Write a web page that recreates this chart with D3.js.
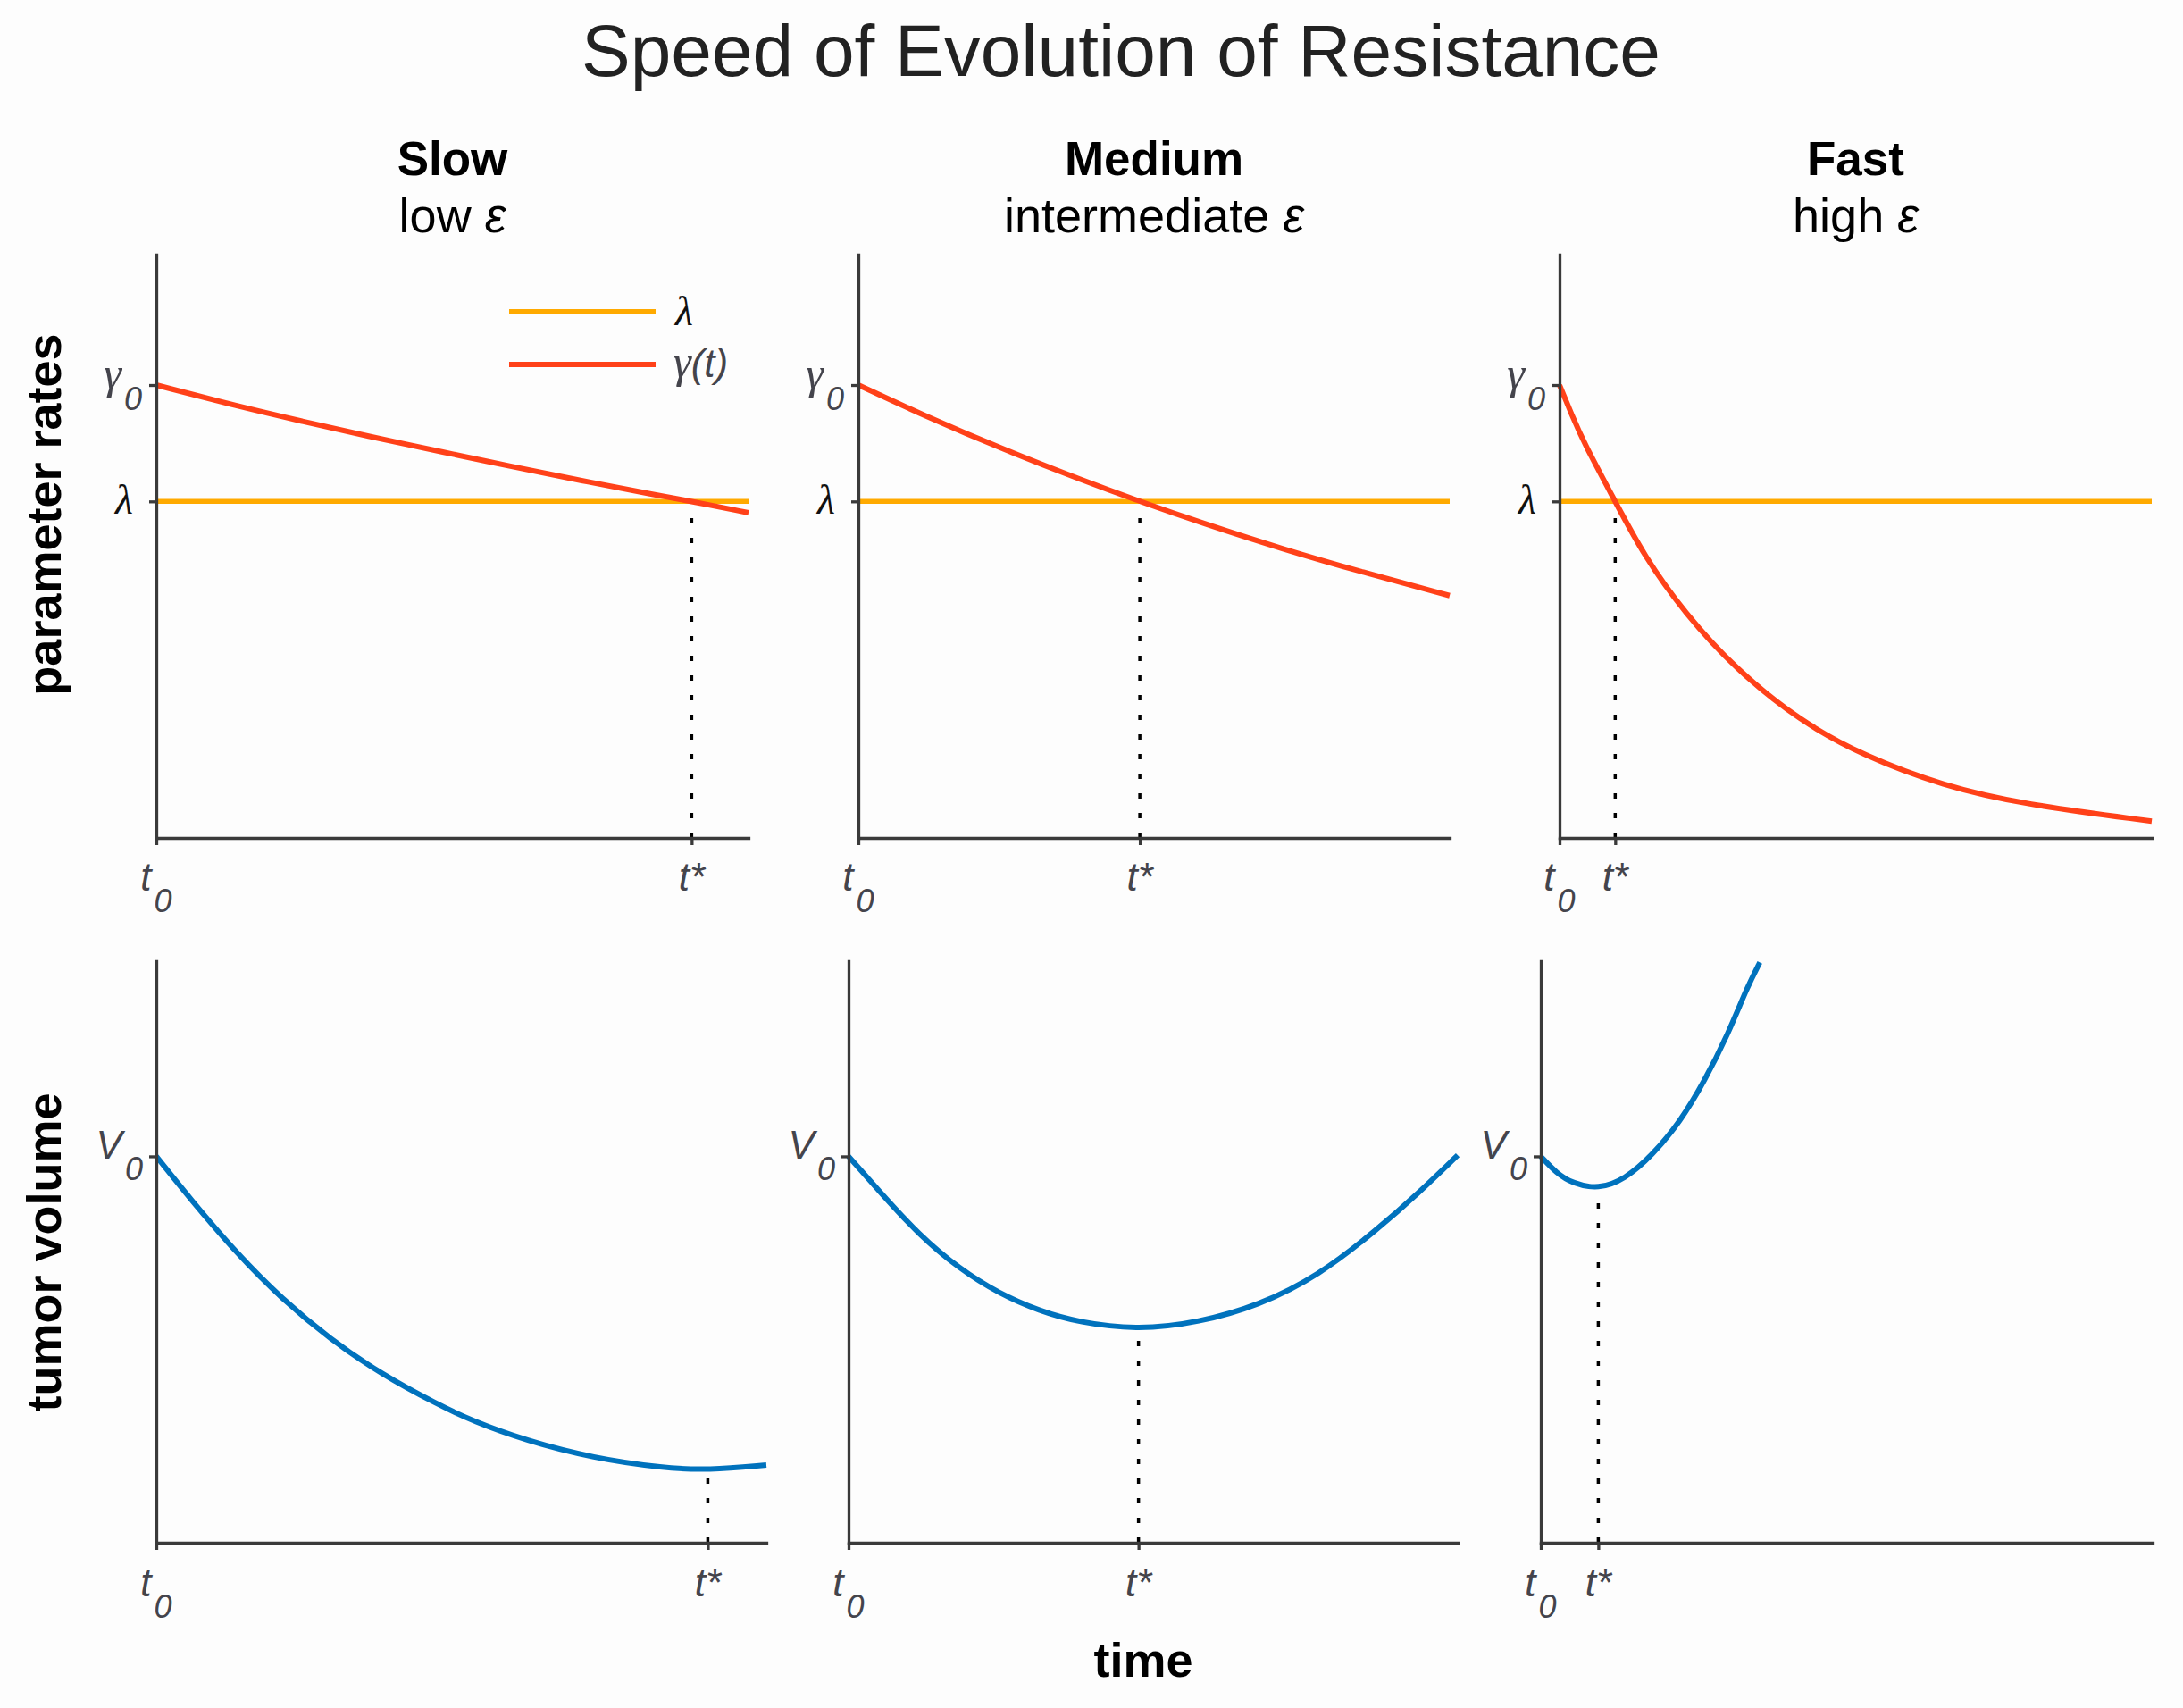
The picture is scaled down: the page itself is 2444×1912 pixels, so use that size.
<!DOCTYPE html>
<html>
<head>
<meta charset="utf-8">
<script src="https://cdn.jsdelivr.net/npm/d3@7"></script>
<style>
  body { margin: 0; background: #fdfdfd; }
  svg { display: block; }
  text { font-family: "Liberation Sans", Arial, sans-serif; }
</style>
</head>
<body>
<svg id="chart" width="2444" height="1912"></svg>
<script>
// ---- data (time runs 0..1 in every panel) ----
const speedNames = ["Slow", "Medium", "Fast"];
const epsWords = ["low", "intermediate", "high"];
const tStar = [0.904, 0.476, 0.094];

const gamma0 = 1;
const lambda = 0.743;
const V0 = 1;
const rateMax = 1.288;
const volMax = 1.505;

const gammaSlow = [[0, 1], [0.138, 0.953], [0.246, 0.92], [0.354, 0.888], [0.488, 0.851], [0.596, 0.821],
  [0.717, 0.789], [0.845, 0.757], [0.904, 0.743], [1, 0.718]];
const gammaMedium = [[0, 1], [0.117, 0.929], [0.245, 0.858], [0.38, 0.789], [0.476, 0.743], [0.582, 0.695],
  [0.717, 0.638], [0.852, 0.587], [1, 0.535]];
const gammaFast = [[0, 1], [0.02, 0.936], [0.042, 0.87], [0.094, 0.743], [0.143, 0.622], [0.211, 0.497],
  [0.298, 0.372], [0.406, 0.258], [0.514, 0.181], [0.648, 0.115], [0.783, 0.074], [1, 0.037]];

const volSlow = [[0, 1], [0.056, 0.889], [0.134, 0.745], [0.206, 0.631], [0.284, 0.528], [0.369, 0.436],
  [0.461, 0.358], [0.52, 0.314], [0.605, 0.265], [0.716, 0.219], [0.833, 0.193], [0.904, 0.188], [1, 0.201]];
const volMedium = [[0, 1], [0.051, 0.909], [0.116, 0.796], [0.182, 0.709], [0.247, 0.645], [0.313, 0.6],
  [0.378, 0.57], [0.476, 0.551], [0.575, 0.57], [0.673, 0.614], [0.771, 0.69], [0.869, 0.812], [0.935, 0.904], [1, 1.003]];
const volFast = [[0, 1], [0.026, 0.956], [0.052, 0.93], [0.094, 0.915], [0.137, 0.94], [0.182, 1.002],
  [0.228, 1.09], [0.267, 1.193], [0.306, 1.316], [0.338, 1.44], [0.358, 1.502]];
const volAtTStar = [0.188, 0.553, 0.918];

const gammaSeries = [gammaSlow, gammaMedium, gammaFast];
const volSeries = [volSlow, volMedium, volFast];

// ---- layout ----
const topX = [[175, 838], [961, 1623], [1746, 2409]];
const topY = [938, 285];
const botX = [[175, 858], [950, 1632], [1725, 2410]];
const botY = [1727, 1076];

const axisColor = "#3a3a3a";
const labelColor = "#44444c";
const red = "#ff4119";
const yellow = "#ffaa00";
const blue = "#0072bd";
const mathFont = "'Liberation Serif', 'Times New Roman', serif";

const svg = d3.select("#chart");

svg.append("text")
  .attr("x", 1255).attr("y", 85)
  .attr("text-anchor", "middle")
  .style("font-size", "82px")
  .style("fill", "#222")
  .text("Speed of Evolution of Resistance");

// label with an italic main part and an optional subscript
const mathLabel = (x, y, anchor, main, family, size, sub, fill) => {
  let t = svg.append("text")
    .attr("x", x).attr("y", y)
    .attr("text-anchor", anchor)
    .style("fill", fill);
  t.append("tspan")
    .style("font-family", family)
    .style("font-style", "italic")
    .style("font-size", size + "px")
    .text(main);
  if (sub) {
    t.append("tspan")
      .attr("dx", 3)
      .attr("dy", 24)
      .style("font-style", "italic")
      .style("font-size", "36px")
      .text(sub);
  }
  return t;
};

const styleAxis = (g) => {
  g.selectAll(".domain, .tick line")
    .attr("stroke", axisColor)
    .attr("stroke-width", 3.3);
  g.select(".domain").attr("stroke-linecap", "square");
};

speedNames.forEach((name, i) => {
  let cx = (topX[i][0] + topX[i][1]) / 2;

  svg.append("text")
    .attr("x", cx).attr("y", 196)
    .attr("text-anchor", "middle")
    .style("font-size", "53px").style("font-weight", "bold")
    .style("fill", "#000")
    .text(name);

  let sub = svg.append("text")
    .attr("x", cx).attr("y", 260)
    .attr("text-anchor", "middle")
    .style("font-size", "54px")
    .style("fill", "#000");
  sub.append("tspan").text(epsWords[i] + " ");
  sub.append("tspan").style("font-style", "italic").text("\u03b5");

  // ---------- top row: parameter rates ----------
  let x = d3.scaleLinear().domain([0, 1]).range(topX[i]);
  let y = d3.scaleLinear().domain([0, rateMax]).range(topY);

  let line = d3.line()
    .x(d => x(d[0]))
    .y(d => y(d[1]))
    .curve(d3.curveBasis);

  svg.append("line")
    .attr("x1", x(tStar[i])).attr("x2", x(tStar[i]))
    .attr("y1", y(0)).attr("y2", y(lambda))
    .attr("stroke", "#000").attr("stroke-width", 3.5)
    .attr("stroke-dasharray", "6,16");

  svg.append("path")
    .datum([[0, lambda], [1, lambda]])
    .attr("d", line)
    .attr("fill", "none")
    .attr("stroke", yellow)
    .attr("stroke-width", 5.5);

  svg.append("path")
    .datum(gammaSeries[i])
    .attr("d", line)
    .attr("fill", "none")
    .attr("stroke", red)
    .attr("stroke-width", 6);

  let xAxis = svg.append("g")
    .attr("transform", "translate(0," + y(0) + ")")
    .call(d3.axisBottom(x).tickValues([0, tStar[i]]).tickSize(8).tickSizeOuter(0).tickFormat(""));
  styleAxis(xAxis);

  let yAxis = svg.append("g")
    .attr("transform", "translate(" + x(0) + ",0)")
    .call(d3.axisLeft(y).tickValues([lambda, gamma0]).tickSize(8).tickSizeOuter(0).tickFormat(""));
  styleAxis(yAxis);

  mathLabel(x(0), y(0) + 59, "middle", "t", "inherit", 44, "0", labelColor);
  mathLabel(x(tStar[i]), y(0) + 59, "middle", "t*", "inherit", 44, null, labelColor);
  mathLabel(x(0) - 16, y(gamma0) + 4, "end", "\u03b3", mathFont, 50, "0", labelColor);
  mathLabel(x(0) - 26, y(lambda) + 14, "end", "\u03bb", mathFont, 46, null, "#111");

  // ---------- bottom row: tumor volume ----------
  let xb = d3.scaleLinear().domain([0, 1]).range(botX[i]);
  let yb = d3.scaleLinear().domain([0, volMax]).range(botY);

  let lineB = d3.line()
    .x(d => xb(d[0]))
    .y(d => yb(d[1]))
    .curve(d3.curveBasis);

  svg.append("line")
    .attr("x1", xb(tStar[i])).attr("x2", xb(tStar[i]))
    .attr("y1", yb(0)).attr("y2", yb(volAtTStar[i]))
    .attr("stroke", "#000").attr("stroke-width", 3.5)
    .attr("stroke-dasharray", "6,16");

  svg.append("path")
    .datum(volSeries[i])
    .attr("d", lineB)
    .attr("fill", "none")
    .attr("stroke", blue)
    .attr("stroke-width", 6);

  let xAxisB = svg.append("g")
    .attr("transform", "translate(0," + yb(0) + ")")
    .call(d3.axisBottom(xb).tickValues([0, tStar[i]]).tickSize(8).tickSizeOuter(0).tickFormat(""));
  styleAxis(xAxisB);

  let yAxisB = svg.append("g")
    .attr("transform", "translate(" + xb(0) + ",0)")
    .call(d3.axisLeft(yb).tickValues([V0]).tickSize(8).tickSizeOuter(0).tickFormat(""));
  styleAxis(yAxisB);

  mathLabel(xb(0), yb(0) + 60, "middle", "t", "inherit", 44, "0", labelColor);
  mathLabel(xb(tStar[i]), yb(0) + 60, "middle", "t*", "inherit", 44, null, labelColor);
  mathLabel(xb(0) - 15, yb(V0) + 3, "end", "V", "inherit", 44, "0", labelColor);
});

// legend in the first panel
const legendItems = [
  { color: yellow, y: 349 },
  { color: red, y: 408 }
];
legendItems.forEach(d => {
  svg.append("line")
    .attr("x1", 570).attr("x2", 734)
    .attr("y1", d.y).attr("y2", d.y)
    .attr("stroke", d.color)
    .attr("stroke-width", 6);
});
svg.append("text")
  .attr("x", 756).attr("y", 364)
  .style("font-family", mathFont).style("font-style", "italic")
  .style("font-size", "46px").style("fill", "#111")
  .text("\u03bb");
let g2 = svg.append("text")
  .attr("x", 754).attr("y", 422)
  .style("fill", labelColor);
g2.append("tspan")
  .style("font-family", mathFont).style("font-style", "italic")
  .style("font-size", "50px")
  .text("\u03b3");
g2.append("tspan")
  .style("font-style", "italic").style("font-size", "44px")
  .text("(t)");

// row / axis titles
svg.append("text")
  .attr("transform", "translate(68,576) rotate(-90)")
  .attr("text-anchor", "middle")
  .style("font-size", "54px").style("font-weight", "bold")
  .text("parameter rates");

svg.append("text")
  .attr("transform", "translate(68,1402) rotate(-90)")
  .attr("text-anchor", "middle")
  .style("font-size", "54px").style("font-weight", "bold")
  .text("tumor volume");

svg.append("text")
  .attr("x", 1280).attr("y", 1877)
  .attr("text-anchor", "middle")
  .style("font-size", "54px").style("font-weight", "bold")
  .text("time");
</script>
</body>
</html>
